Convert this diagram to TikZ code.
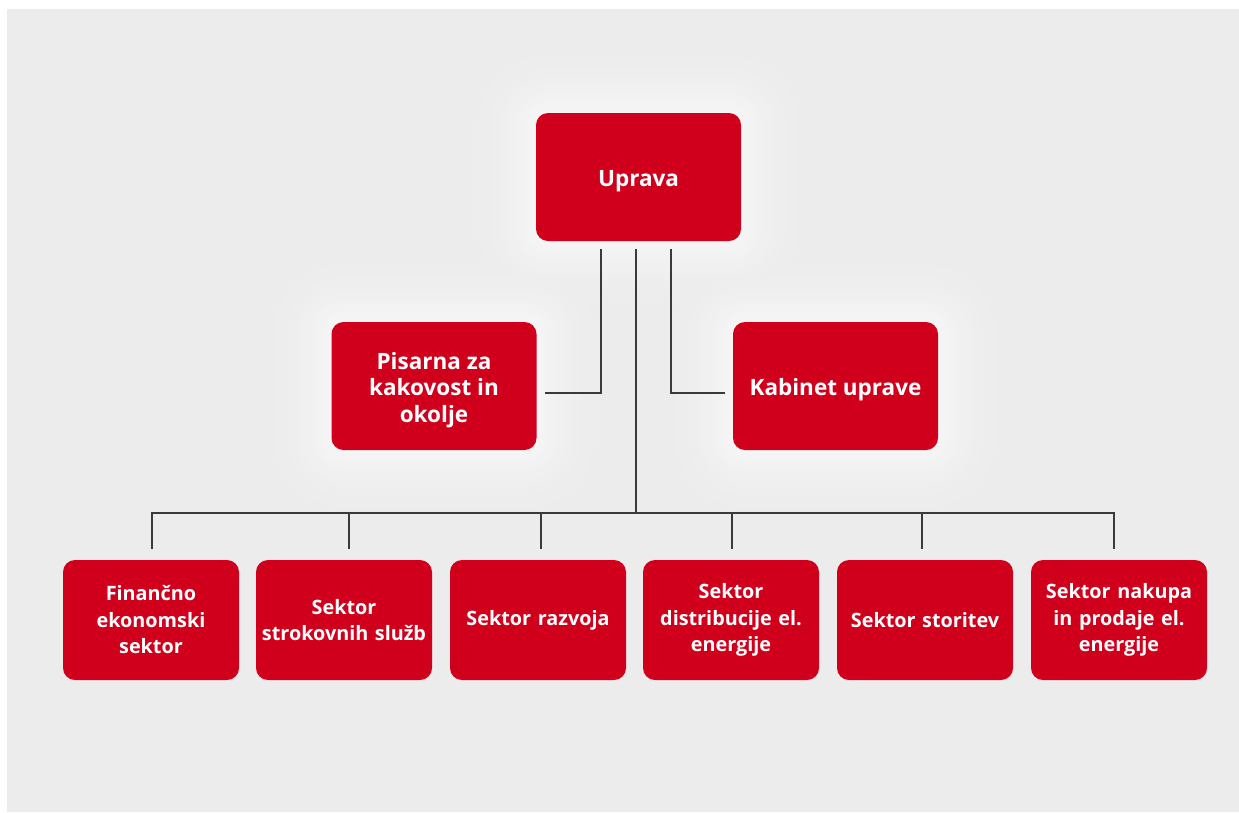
\documentclass[tikz,border=0pt]{standalone}
\usepackage{fontspec}
\setmainfont{Open Sans}
\usetikzlibrary{calc}
\definecolor{bg}{HTML}{EBECEB}
\definecolor{boxred}{HTML}{D0001C}
\definecolor{linec}{HTML}{3A3A3A}
\pgfdeclarelayer{bottom}
\pgfdeclarelayer{glow}
\pgfsetlayers{bottom,glow,main}
\tikzset{
  orgbox/.style={fill=boxred, rounded corners=12pt, text=white, align=center, inner sep=0pt},
  topbox/.style={orgbox, minimum width=205pt, minimum height=128pt},
  toptext/.style={text=white, align=center, inner sep=0pt, yshift=-4pt,
    font=\bfseries\fontsize{22.5}{26.5}\selectfont},
  secbox/.style={orgbox, minimum width=176pt, minimum height=120pt, text width=172pt,
    font=\bfseries\fontsize{19.8}{26.5}\selectfont},
  conn/.style={draw=linec, line width=1.1pt}
}
\begin{document}
\begin{tikzpicture}[x=1pt,y=-1pt]
\useasboundingbox (0,0) rectangle (1239,812);

\node[topbox, label={[toptext]center:Uprava}] (uprava) at (638.5,177) {};
\node[topbox, label={[toptext]center:{Pisarna za\\kakovost in\\okolje}}] (pisarna) at (434,386) {};
\node[topbox, label={[toptext]center:Kabinet uprave}] (kabinet) at (835.5,386) {};

\node[secbox] (s1) at (151,620) {Finančno\\ekonomski\\sektor};
\node[secbox] (s2) at (344,620) {Sektor\\strokovnih služb};
\node[secbox] (s3) at (538,620) {Sektor razvoja};
\node[secbox] (s4) at (731,620) {Sektor\\distribucije el.\\energije};
\node[secbox] (s5) at (925,620) {Sektor storitev};
\node[secbox] (s6) at (1119,620) {Sektor nakupa\\in prodaje el.\\energije};

\begin{pgfonlayer}{bottom}
\fill[white] (0,0) rectangle (1239,812);
\fill[bg] (7,9) rectangle (1239,812);
\end{pgfonlayer}
\begin{pgfonlayer}{glow}
\foreach \rr in {75,72,...,3} {
  \pgfmathsetmacro{\pp}{50*(1-\rr/78)^2}
  \colorlet{ringc}{white!\pp!bg}
  \foreach \bx in {uprava,pisarna,kabinet} {
    \fill[ringc, rounded corners=12+\rr] ($(\bx.south west)+(-\rr,\rr)$) rectangle ($(\bx.north east)+(\rr,-\rr)$);
  }
}
\end{pgfonlayer}

\coordinate (u1) at (601,249);
\coordinate (u2) at (636,249);
\coordinate (u3) at (671,249);
\coordinate (pe) at (545,393);
\coordinate (ke) at (725,393);
\coordinate (bus) at (636,513);
\coordinate (t1) at (152,549);
\coordinate (t2) at (349,549);
\coordinate (t3) at (541,549);
\coordinate (t4) at (732,549);
\coordinate (t5) at (922,549);
\coordinate (t6) at (1114,549);

\draw[conn] (u1) |- (pe);
\draw[conn] (u3) |- (ke);
\draw[conn] (u2) -- (bus);
\draw[conn] (t1) -- (t1|-bus) -- (t6|-bus) -- (t6);
\foreach \t in {t2,t3,t4,t5} \draw[conn] (\t|-bus) -- (\t);
\end{tikzpicture}
\end{document}
